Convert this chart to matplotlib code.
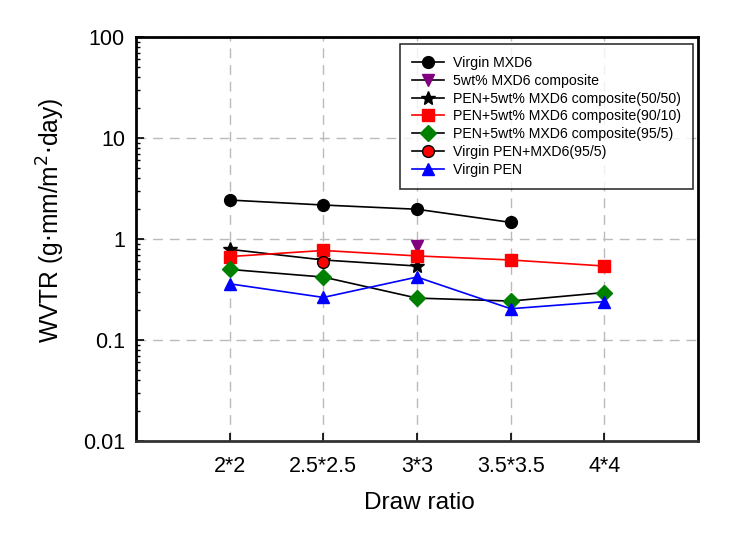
import numpy as np
import matplotlib
matplotlib.use("Agg")
import matplotlib.pyplot as plt

plt.rcParams['font.family'] = ['Liberation Sans', 'DejaVu Sans']

# Draw ratio categories
ratios = ['2*2', '2.5*2.5', '3*3', '3.5*3.5', '4*4']

# WVTR values (g.mm/m2.day), None = no measurement
virgin_mxd6 = [2.43, 2.17, 1.97, 1.46, None]
mxd6_comp = [None, None, 0.86, None, None]
pen_5050 = [0.79, 0.62, 0.54, None, None]
pen_9010 = [0.67, 0.77, 0.68, 0.62, 0.54]
pen_955 = [0.50, 0.42, 0.26, 0.243, 0.295]
virgin_pen_mxd6 = [None, 0.59, None, None, None]
virgin_pen = [0.36, 0.264, 0.42, 0.204, 0.24]

labels = ['Virgin MXD6', '5wt% MXD6 composite',
          'PEN+5wt% MXD6 composite(50/50)', 'PEN+5wt% MXD6 composite(90/10)',
          'PEN+5wt% MXD6 composite(95/5)', 'Virgin PEN+MXD6(95/5)', 'Virgin PEN']

fig = plt.figure(figsize=(7.53, 5.4), dpi=100)
ax = fig.add_axes([0.1806, 0.1833, 0.7464, 0.7482])

x = np.arange(1, len(ratios) + 1)


def series(vals):
    xs = [xi for xi, v in zip(x, vals) if v is not None]
    ys = [v for v in vals if v is not None]
    return xs, ys


styles = [
    (virgin_mxd6, 'black', 'o', 'black', 'black', 8.5),
    (mxd6_comp, 'black', 'v', 'purple', 'purple', 9),
    (pen_5050, 'black', '*', 'black', 'black', 10),
    (pen_9010, 'red', 's', 'red', 'red', 8),
    (pen_955, 'black', 'D', 'green', 'green', 8),
    (virgin_pen_mxd6, 'black', 'o', 'red', 'black', 8.5),
    (virgin_pen, 'blue', '^', 'blue', 'blue', 9),
]

for (vals, lc, mk, mfc, mec, ms), lab in zip(styles, labels):
    xs, ys = series(vals)
    ax.plot(xs, ys, color=lc, lw=1.2, marker=mk, markerfacecolor=mfc,
            markeredgecolor=mec, markersize=ms, label=lab, zorder=3)

ax.set_yscale('log')
ax.set_ylim(0.01, 100)
ax.set_xlim(0, 6)
ax.set_xticks(x)
ax.set_xticklabels(ratios)
ax.set_yticks([0.01, 0.1, 1, 10, 100])
ax.set_yticklabels(['0.01', '0.1', '1', '10', '100'])

ax.grid(True, which='major', color='#bbbbbb', linestyle=(0, (7, 5)), lw=1)
ax.set_axisbelow(True)

ax.tick_params(axis='both', which='major', direction='in', length=6, width=1.2,
               labelsize=15.5, top=False, right=False, pad=8)
ax.tick_params(axis='x', which='major', pad=11)
ax.tick_params(axis='y', which='minor', direction='in', length=3, width=1,
               right=False)
ax.tick_params(axis='x', which='minor', bottom=False)

for sp in ax.spines.values():
    sp.set_linewidth(2)
ax.spines['bottom'].set_color('#333333')

ax.set_xlabel('Draw ratio', fontsize=17.6)
ax.xaxis.set_label_coords(0.505, -0.127)
ax.set_ylabel('WVTR (g$\\cdot$mm/m$^2$$\\cdot$day)', fontsize=17.7)
ax.yaxis.set_label_coords(-0.122, 0.547)

leg = ax.legend(loc='upper right', bbox_to_anchor=(0.9911, 0.983), fontsize=10.2,
                frameon=True, fancybox=False, edgecolor='black',
                handlelength=2.3, handletextpad=0.6, labelspacing=0.27,
                borderpad=0.85, borderaxespad=0)
leg.get_frame().set_linewidth(1.2)

fig.savefig('out.png', dpi=100)
